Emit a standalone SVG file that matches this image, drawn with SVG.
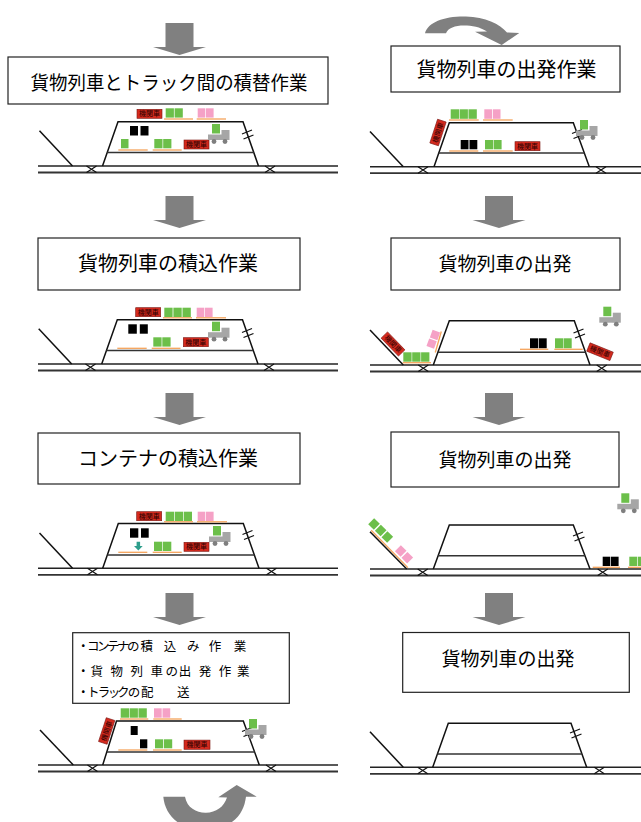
<svg xmlns="http://www.w3.org/2000/svg" xmlns:xlink="http://www.w3.org/1999/xlink" width="641" height="822" viewBox="0 0 641 822">
<style>
  .box{fill:#fff;stroke:#222;stroke-width:1.2}
  .t{font-family:"Noto Sans CJK JP","Noto Sans",sans-serif;font-size:19px;fill:#000;text-anchor:middle}
  .bl{font-family:"Noto Sans CJK JP","Noto Sans",sans-serif;font-size:12.5px;fill:#000;text-anchor:middle}
  .st{fill:none;stroke:#111;stroke-width:1.5;stroke-linejoin:miter}
  .mid{stroke:#333;stroke-width:1.5}
  .r1{stroke:#222;stroke-width:1.6}
  .r2{stroke:#333;stroke-width:1.8}
  .g{fill:#6cbf4a}
  .p{fill:#f5a1c6}
  .k{fill:#000}
  .o{stroke:#f5a35a;stroke-width:1.3}
  .loco rect{fill:#d42a1e;stroke:#7a1410;stroke-width:.6}
  .loco text{font-family:"Noto Sans CJK JP",sans-serif;font-size:7px;fill:#2a0000;text-anchor:middle}
  .arr{fill:#808080}
</style>
<defs>
  <path id="xm" d="M-5,0 L5,6.5 M5,0 L-5,6.5" stroke="#111" stroke-width="1.2" fill="none"/>
  <path id="tick" d="M-5,-0.5 L5,-4.5 M-3.5,4.5 L6.5,0.5" stroke="#111" stroke-width="1.3" fill="none"/>
  <g id="truck">
    <rect x="4" y="0" width="8" height="9.5" fill="#6cbf4a"/>
    <rect x="0" y="10.5" width="14" height="5.5" fill="#a6a6a6"/>
    <rect x="13.5" y="6" width="8" height="10" fill="#a6a6a6"/>
    <circle cx="6" cy="17.5" r="2.4" fill="#7f7f7f"/>
    <circle cx="17" cy="17.5" r="2.4" fill="#7f7f7f"/>
  </g>
</defs>
<rect width="641" height="822" fill="#fff"/>

<!-- flow arrows -->
<g id="connectors">
  <g class="arr">
    <rect x="165.5" y="23" width="28" height="24"/><polygon points="153,47 206,47 179.5,55"/>
    <rect x="165.5" y="196" width="28" height="24"/><polygon points="153,220 206,220 179.5,228"/>
    <rect x="165.5" y="393" width="28" height="24"/><polygon points="153,417 206,417 179.5,425"/>
    <rect x="165.5" y="593" width="28" height="24"/><polygon points="153,617 206,617 179.5,625"/>
    <rect x="485" y="196" width="28" height="24"/><polygon points="472.5,220 525.5,220 499,228"/>
    <rect x="485" y="393" width="28" height="24"/><polygon points="472.5,417 525.5,417 499,425"/>
    <rect x="485" y="593" width="28" height="24"/><polygon points="472.5,617 525.5,617 499,625"/>
    <path d="M425,33.3 C428,22 445,16 466,16.5 C485,17 500,24 507,32.5 L519.3,33 L501.7,45 L475,31.7 L487,31.5 C480,27 472,25.5 464,25.5 C455,25.5 448,28 446,33.3 Z"/>
    <path d="M163.3,796.7 L185,796.7 C187,808 197,813 206,812.7 C216,812.5 224,807 227,797.5 L218.3,797.3 L236.7,785 L256.7,796.7 L246,796.7 C244,812 236,826 210,830 C180,832 165,815 163.3,796.7 Z"/>
  </g>
</g>

<!-- step boxes -->
<g id="box-l1"><rect class="box" x="8" y="57" width="320" height="47"/><text class="t" x="169" y="89.5" textLength="277" lengthAdjust="spacingAndGlyphs">貨物列車とトラック間の積替作業</text></g>
<g id="box-l2"><rect class="box" x="38" y="238" width="262" height="52"/><text class="t" x="168" y="271" style="font-size:20px">貨物列車の積込作業</text></g>
<g id="box-l3"><rect class="box" x="38" y="433" width="262" height="51"/><text class="t" x="168" y="466" style="font-size:20px">コンテナの積込作業</text></g>
<g id="box-l4"><rect class="box" x="72.7" y="632.7" width="216.6" height="70.6"/>
  <text class="bl" x="83.3 93.3 103.3 113.3 123.3 133.3 146.7 170 193.3 215 240" y="650.7">・コンテナの積込み作業</text>
  <text class="bl" x="83.3 96.7 116.7 136.7 156.7 171.7 185 205 225 243.3" y="675.7">・貨物列車の出発作業</text>
  <text class="bl" x="83.3 93.3 104 114 123.3 134 147.3 183.3" y="697.2">・トラックの配送</text>
</g>
<g id="box-r1"><rect class="box" x="391" y="46" width="229" height="46"/><text class="t" x="506.5" y="77.3" style="font-size:20px">貨物列車の出発作業</text></g>
<g id="box-r2"><rect class="box" x="391" y="238" width="229" height="52"/><text class="t" x="505" y="271">貨物列車の出発</text></g>
<g id="box-r3"><rect class="box" x="391" y="432" width="228" height="55"/><text class="t" x="505" y="467">貨物列車の出発</text></g>
<g id="box-r4"><rect class="box" x="402.7" y="632.5" width="226.6" height="59.8"/><text class="t" x="508" y="666">貨物列車の出発</text></g>

<!-- station panel: transfer between train and truck -->
<g id="panel-l1">
  <line class="r1" x1="38" y1="166" x2="338" y2="166"/><line class="r2" x1="38" y1="172.5" x2="338" y2="172.5"/>
  <use href="#xm" x="91.5" y="166"/><use href="#xm" x="270" y="166"/>
  <line class="st" x1="39.5" y1="130.7" x2="72.5" y2="166"/>
  <path class="st" d="M102.5,166 L118,121.7 L243,121.7 L258.5,166"/>
  <line class="mid" x1="107.2" y1="152.5" x2="253.8" y2="152.5"/>
  <g class="loco" transform="translate(149.5,113.8)"><rect x="-12.5" y="-4.5" width="25" height="9"/><text y="2.5">機関車</text></g>
  <rect class="g" x="165.7" y="108.3" width="8.2" height="9.3"/><rect class="g" x="174.6" y="108.3" width="8.2" height="9.3"/>
  <line class="o" x1="164" y1="119" x2="193" y2="119"/>
  <rect class="p" x="197.7" y="108.3" width="7.6" height="9.3"/><rect class="p" x="206" y="108.3" width="7.6" height="9.3"/>
  <line class="o" x1="196.7" y1="119" x2="226" y2="119"/>
  <rect class="k" x="130" y="126" width="8" height="9.5"/><rect class="k" x="140.5" y="126" width="8" height="9.5"/>
  <rect class="g" x="121" y="139" width="7.5" height="9.3"/>
  <line class="o" x1="118.3" y1="150" x2="147.7" y2="150"/>
  <rect class="g" x="154.3" y="139" width="8.2" height="9.3"/><rect class="g" x="163.2" y="139" width="8.2" height="9.3"/>
  <line class="o" x1="152.7" y1="150" x2="181.7" y2="150"/>
  <g class="loco" transform="translate(196.5,144.5)"><rect x="-12.5" y="-4.5" width="25" height="9"/><text y="2.5">機関車</text></g>
  <use href="#tick" x="247" y="134.5"/>
  <use href="#truck" x="208" y="124"/>
</g>

<!-- station panel: loading the train -->
<g id="panel-l2">
  <line class="r1" x1="38" y1="364" x2="338" y2="364"/><line class="r2" x1="38" y1="370.5" x2="338" y2="370.5"/>
  <use href="#xm" x="90.5" y="364"/><use href="#xm" x="269" y="364"/>
  <line class="st" x1="38.7" y1="328.7" x2="71.7" y2="364"/>
  <path class="st" d="M101.7,364 L117.3,319.7 L242.5,319.7 L258,364"/>
  <line class="mid" x1="106.4" y1="350.5" x2="253.3" y2="350.5"/>
  <g class="loco" transform="translate(148.2,312.2)"><rect x="-12.5" y="-4.5" width="25" height="9"/><text y="2.5">機関車</text></g>
  <rect class="g" x="164.3" y="307.7" width="8.3" height="9.3"/><rect class="g" x="173.4" y="307.7" width="8.3" height="9.3"/><rect class="g" x="182.5" y="307.7" width="8.3" height="9.3"/>
  <line class="o" x1="163" y1="317.8" x2="192" y2="317.8"/>
  <rect class="p" x="196.7" y="307.7" width="7.6" height="9.3"/><rect class="p" x="205" y="307.7" width="7.6" height="9.3"/>
  <line class="o" x1="196" y1="317.8" x2="226" y2="317.8"/>
  <rect class="k" x="128.3" y="324.3" width="8.5" height="9.4"/><rect class="k" x="139.8" y="324.3" width="8" height="9.4"/>
  <line class="o" x1="117.3" y1="348.3" x2="146.7" y2="348.3"/>
  <rect class="g" x="153.3" y="337.3" width="8.3" height="9.3"/><rect class="g" x="162.3" y="337.3" width="8.3" height="9.3"/>
  <line class="o" x1="151.7" y1="348.3" x2="180.5" y2="348.3"/>
  <g class="loco" transform="translate(195.8,342.2)"><rect x="-12.5" y="-4.5" width="25" height="9"/><text y="2.5">機関車</text></g>
  <use href="#tick" x="247" y="333"/>
  <use href="#truck" x="208" y="321.7"/>
</g>

<!-- station panel: loading containers -->
<g id="panel-l3">
  <line class="r1" x1="38" y1="568.3" x2="338" y2="568.3"/><line class="r2" x1="38" y1="574.8" x2="338" y2="574.8"/>
  <use href="#xm" x="92.5" y="568.3"/><use href="#xm" x="271.5" y="568.3"/>
  <line class="st" x1="39.5" y1="533" x2="72.5" y2="568.3"/>
  <path class="st" d="M102.7,568.3 L118.3,523.5 L243.3,523.5 L259,568.3"/>
  <line class="mid" x1="107.5" y1="555" x2="254.3" y2="555"/>
  <g class="loco" transform="translate(149.2,516.2)"><rect x="-12.5" y="-4.5" width="25" height="9"/><text y="2.5">機関車</text></g>
  <rect class="g" x="165.7" y="511.7" width="8.3" height="9.3"/><rect class="g" x="174.7" y="511.7" width="8.3" height="9.3"/><rect class="g" x="183.7" y="511.7" width="8.3" height="9.3"/>
  <line class="o" x1="164" y1="521.8" x2="193" y2="521.8"/>
  <rect class="p" x="197.7" y="511.7" width="7.6" height="9.3"/><rect class="p" x="206" y="511.7" width="7.6" height="9.3"/>
  <line class="o" x1="197" y1="521.8" x2="227" y2="521.8"/>
  <rect class="k" x="130" y="528.3" width="8.3" height="9.4"/><rect class="k" x="141" y="528.3" width="7.7" height="9.4"/>
  <polygon points="136.6,541.7 140.1,541.7 140.1,546 142.7,546 138.35,550.6 134,546 136.6,546" fill="#2e9e8c"/>
  <line class="o" x1="118.3" y1="552.3" x2="147.3" y2="552.3"/>
  <rect class="g" x="154" y="541.7" width="8.3" height="9.3"/><rect class="g" x="163" y="541.7" width="8.3" height="9.3"/>
  <line class="o" x1="152.7" y1="552.3" x2="181.7" y2="552.3"/>
  <g class="loco" transform="translate(196.5,546.8)"><rect x="-12.5" y="-4.5" width="25" height="9"/><text y="2.5">機関車</text></g>
  <use href="#tick" x="247.5" y="535"/>
  <use href="#truck" x="209" y="526"/>
</g>

<!-- station panel: loading, departure and delivery at once -->
<g id="panel-l4">
  <line class="r1" x1="38" y1="765" x2="338" y2="765"/><line class="r2" x1="38" y1="771.5" x2="338" y2="771.5"/>
  <use href="#xm" x="92.5" y="765"/><use href="#xm" x="271" y="765"/>
  <line class="st" x1="40" y1="730" x2="73.3" y2="765"/>
  <path class="st" d="M102.7,765 L116.5,721 L243.3,721 L259.3,765"/>
  <line class="mid" x1="107" y1="752" x2="254.7" y2="752"/>
  <rect class="g" x="120.7" y="708.3" width="8.3" height="9.4"/><rect class="g" x="129.6" y="708.3" width="8.3" height="9.4"/><rect class="g" x="138.5" y="708.3" width="8.3" height="9.4"/>
  <line class="o" x1="120" y1="719" x2="148.3" y2="719"/>
  <rect class="p" x="154" y="708.3" width="7.7" height="9.4"/><rect class="p" x="162.5" y="708.3" width="7.7" height="9.4"/>
  <line class="o" x1="153.3" y1="719" x2="181.7" y2="719"/>
  <g class="loco" transform="translate(106.7,731) rotate(-72)"><rect x="-12.5" y="-4.5" width="25" height="9"/><text y="2.5">機関車</text></g>
  <rect class="k" x="130.7" y="726" width="7" height="9"/><rect class="k" x="140" y="739.3" width="7.3" height="9"/>
  <line class="o" x1="118.3" y1="750" x2="147.3" y2="750"/>
  <rect class="g" x="155" y="739.3" width="8.2" height="9"/><rect class="g" x="164" y="739.3" width="8.2" height="9"/>
  <line class="o" x1="153" y1="750" x2="181.7" y2="750"/>
  <g class="loco" transform="translate(197,744.7)"><rect x="-13" y="-4.6" width="26" height="9.2"/><text y="2.5">機関車</text></g>
  <use href="#tick" x="247" y="732"/>
  <use href="#truck" x="245" y="719"/>
</g>

<!-- station panel: departure work -->
<g id="panel-r1">
  <line class="r1" x1="370" y1="166.7" x2="641" y2="166.7"/><line class="r2" x1="370" y1="173.2" x2="641" y2="173.2"/>
  <use href="#xm" x="423" y="166.7"/><use href="#xm" x="601" y="166.7"/>
  <line class="st" x1="370" y1="131.5" x2="403.3" y2="166.7"/>
  <path class="st" d="M434,166.7 L449.3,122.7 L573.3,122.7 L589.3,166.7"/>
  <line class="mid" x1="438.7" y1="153" x2="584.5" y2="153"/>
  <rect class="g" x="450.7" y="109.3" width="8.3" height="9.5"/><rect class="g" x="459.6" y="109.3" width="8.3" height="9.5"/><rect class="g" x="468.5" y="109.3" width="8.3" height="9.5"/>
  <line class="o" x1="449" y1="120" x2="478.7" y2="120"/>
  <rect class="p" x="484.3" y="109.3" width="7.7" height="9.5"/><rect class="p" x="492.8" y="109.3" width="7.7" height="9.5"/>
  <line class="o" x1="483" y1="120" x2="512.7" y2="120"/>
  <g class="loco" transform="translate(438,132.5) rotate(-72)"><rect x="-12.5" y="-4.5" width="25" height="9"/><text y="2.5">機関車</text></g>
  <rect class="k" x="460.7" y="140" width="7.8" height="9.3"/><rect class="k" x="469.5" y="140" width="7.8" height="9.3"/>
  <line class="o" x1="449.3" y1="151" x2="478.3" y2="151"/>
  <rect class="g" x="485" y="140" width="8" height="9.3"/><rect class="g" x="493.6" y="140" width="8" height="9.3"/>
  <line class="o" x1="483" y1="151" x2="512.7" y2="151"/>
  <g class="loco" transform="translate(527.5,146.2)"><rect x="-12.5" y="-4.5" width="25" height="9"/><text y="2.5">機関車</text></g>
  <use href="#tick" x="577" y="134"/>
  <use href="#truck" x="576" y="120"/>
</g>

<!-- station panel: departure -->
<g id="panel-r2">
  <line class="r1" x1="370" y1="365" x2="641" y2="365"/><line class="r2" x1="370" y1="371.5" x2="641" y2="371.5"/>
  <use href="#xm" x="423.3" y="365"/><use href="#xm" x="601.7" y="365"/>
  <line class="st" x1="370" y1="330" x2="403.3" y2="365"/>
  <path class="st" d="M433.3,365 L449.3,320.7 L574.3,320.7 L590,365"/>
  <line class="mid" x1="437.9" y1="352.3" x2="585.5" y2="352.3"/>
  <g class="loco" transform="translate(393,344) rotate(46)"><rect x="-12.5" y="-4.5" width="25" height="9"/><text y="2.5">機関車</text></g>
  <rect class="g" x="403.3" y="352.3" width="8.3" height="9.4"/><rect class="g" x="412.2" y="352.3" width="8.3" height="9.4"/><rect class="g" x="421.1" y="352.3" width="8.3" height="9.4"/>
  <line class="o" x1="402.7" y1="362.7" x2="431" y2="362.7"/>
  <rect class="p" x="-4" y="-4" width="8" height="8" transform="translate(435,335) rotate(20)"/>
  <rect class="p" x="-4" y="-4" width="8" height="8" transform="translate(431.6,343.6) rotate(20)"/>
  <line class="o" x1="441.3" y1="331.5" x2="435.3" y2="352.5"/>
  <rect class="k" x="530" y="338.3" width="8" height="10"/><rect class="k" x="538.7" y="338.3" width="8" height="10"/>
  <line class="o" x1="520" y1="349.3" x2="548.3" y2="349.3"/>
  <rect class="g" x="555" y="338.3" width="8.1" height="10"/><rect class="g" x="563.6" y="338.3" width="8.1" height="10"/>
  <line class="o" x1="554.3" y1="349.3" x2="582.7" y2="349.3"/>
  <g class="loco" transform="translate(600,351.7) rotate(22)"><rect x="-12.5" y="-4.5" width="25" height="9"/><text y="2.5">機関車</text></g>
  <use href="#tick" x="578.5" y="333.5"/>
  <use href="#truck" x="599.3" y="306.7"/>
</g>

<!-- station panel: departure, train leaving -->
<g id="panel-r3">
  <line class="r1" x1="370" y1="569" x2="641" y2="569"/><line class="r2" x1="370" y1="575.5" x2="641" y2="575.5"/>
  <use href="#xm" x="422.7" y="569"/><use href="#xm" x="602.7" y="569"/>
  <line class="o" x1="371.2" y1="530.3" x2="407.9" y2="567.6"/>
  <line class="st" x1="370" y1="531.7" x2="406.7" y2="569"/>
  <g class="g">
    <rect x="-4" y="-4.2" width="8" height="8.4" transform="translate(374,524) rotate(45)"/>
    <rect x="-4" y="-4.2" width="8" height="8.4" transform="translate(380.7,530.5) rotate(45)"/>
    <rect x="-4" y="-4.2" width="8" height="8.4" transform="translate(387.3,537) rotate(45)"/>
  </g>
  <g class="p">
    <rect x="-4" y="-4.2" width="8" height="8.4" transform="translate(400.7,551) rotate(45)"/>
    <rect x="-4" y="-4.2" width="8" height="8.4" transform="translate(407.3,557.7) rotate(45)"/>
  </g>
  <path class="st" d="M433.3,569 L449.3,525 L573.3,525 L590,569"/>
  <line class="mid" x1="438.1" y1="555.8" x2="585" y2="555.8"/>
  <rect class="k" x="602.7" y="556.7" width="7.6" height="9.3"/><rect class="k" x="611" y="556.7" width="7.6" height="9.3"/>
  <line class="o" x1="592.7" y1="567.3" x2="620" y2="567.3"/>
  <rect class="g" x="629.3" y="556.7" width="8" height="9.3"/><rect class="g" x="638" y="556.7" width="8" height="9.3"/>
  <line class="o" x1="628" y1="567.3" x2="641" y2="567.3"/>
  <use href="#tick" x="578" y="536.5"/>
  <use href="#truck" x="617.3" y="493.3"/>
</g>

<!-- station panel: empty station after departure -->
<g id="panel-r4">
  <line class="r1" x1="370" y1="767.3" x2="641" y2="767.3"/><line class="r2" x1="370" y1="773.8" x2="641" y2="773.8"/>
  <use href="#xm" x="422.7" y="767.3"/><use href="#xm" x="599.3" y="767.3"/>
  <line class="st" x1="370" y1="731.7" x2="403.3" y2="767.3"/>
  <path class="st" d="M432.7,767.3 L448.3,723.3 L571,723.3 L586.7,767.3"/>
  <line class="mid" x1="437.4" y1="754" x2="581.9" y2="754"/>
  <use href="#tick" x="575" y="733.5"/>
</g>
</svg>
